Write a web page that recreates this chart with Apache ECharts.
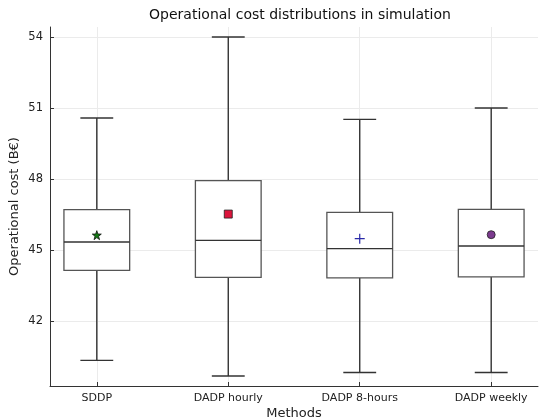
<!DOCTYPE html>
<html>
<head>
<meta charset="utf-8">
<script src="https://cdn.jsdelivr.net/npm/echarts@6/dist/echarts.min.js"></script>
<style>
  html, body { margin: 0; padding: 0; background: #fff; }
  #chart { width: 539px; height: 419px; }
</style>
</head>
<body>
<div id="chart"></div>
<script>
// Methods compared on the x axis
const methods = ['SDDP', 'DADP hourly', 'DADP 8-hours', 'DADP weekly'];
// Box statistics per method (B€)
const whiskerLow  = [40.34, 39.68, 39.83, 39.83];
const quartile1   = [44.14, 43.85, 43.83, 43.87];
const medians     = [45.34, 45.41, 45.06, 45.17];
const quartile3   = [46.71, 47.93, 46.59, 46.72];
const whiskerHigh = [50.58, 54.00, 50.52, 51.00];
// Mean cost per method
const means       = [45.63, 46.52, 45.48, 45.65];
// Y tick labels
const yTicks = [42, 45, 48, 51, 54];

const FONT = 'DejaVu Sans';
const positions = methods.map((_, i) => i + 1);

const boxData = methods.map((_, i) => [
  i + 1, whiskerLow[i], quartile1[i], medians[i], quartile3[i], whiskerHigh[i]
]);

const markerStyles = [
  { symbol: 'path://M0,-10 L2.35,-3.24 L9.51,-3.09 L3.8,1.24 L5.88,8.09 L0,4 L-5.88,8.09 L-3.8,1.24 L-9.51,-3.09 L-2.35,-3.24 Z',
    size: 9, color: '#137a13', border: '#111', bw: 0.8 },
  { symbol: 'rect', size: 8, color: '#dc143c', border: '#222', bw: 0.8 },
  { symbol: 'path://M-0.6,-5 L0.6,-5 L0.6,-0.6 L5,-0.6 L5,0.6 L0.6,0.6 L0.6,5 L-0.6,5 L-0.6,0.6 L-5,0.6 L-5,-0.6 L-0.6,-0.6 Z',
    size: 10, color: '#2a2aa8', border: '#2a2aa8', bw: 0 },
  { symbol: 'circle', size: 8, color: '#7b3a8e', border: '#222', bw: 0.8 }
];

const meanSeries = methods.map((m, i) => ({
  type: 'scatter',
  name: m,
  data: [[i + 1, means[i]]],
  symbol: markerStyles[i].symbol,
  symbolSize: markerStyles[i].size,
  itemStyle: { color: markerStyles[i].color, borderColor: markerStyles[i].border, borderWidth: markerStyles[i].bw, opacity: 1 },
  z: 5,
  silent: true
}));

const chart = echarts.init(document.getElementById('chart'), null, { renderer: 'canvas' });

chart.setOption({
  animation: false,
  backgroundColor: '#fff',
  title: {
    text: 'Operational cost distributions in simulation',
    left: 295, textAlign: 'center', top: 3,
    textStyle: { fontFamily: FONT, fontSize: 14, fontWeight: 'normal', color: '#111' }
  },
  grid: { left: 50, right: 1, top: 27, bottom: 33, outerBoundsMode: 'none', containLabel: false },
  xAxis: {
    type: 'value',
    min: 0.644, max: 4.356,
    name: 'Methods',
    nameLocation: 'middle',
    nameGap: 21,
    nameMoveOverlap: false,
    nameTextStyle: { fontFamily: FONT, fontSize: 13, color: '#222' },
    axisLine: { show: true, onZero: false, lineStyle: { color: '#333', width: 1 } },
    axisTick: { show: true, inside: true, length: 4, customValues: positions, lineStyle: { color: '#333' } },
    axisLabel: {
      customValues: positions,
      fontFamily: FONT, fontSize: 11, color: '#222', margin: 7,
      formatter: v => methods[Math.round(v) - 1] || ''
    },
    splitLine: { show: true, lineStyle: { color: '#ebebeb', width: 1 } }
  },
  yAxis: {
    type: 'value',
    min: 39.26, max: 54.42,
    name: 'Operational cost (B€)',
    nameLocation: 'middle',
    nameGap: 29,
    nameMoveOverlap: false,
    nameTextStyle: { fontFamily: FONT, fontSize: 13, color: '#222' },
    axisLine: { show: true, onZero: false, lineStyle: { color: '#333', width: 1 } },
    axisTick: { show: true, inside: true, length: 4, customValues: yTicks, lineStyle: { color: '#333' } },
    axisLabel: { customValues: yTicks, fontFamily: FONT, fontSize: 11.5, color: '#222', margin: 7 },
    splitLine: { show: true, lineStyle: { color: '#ebebeb', width: 1 } }
  },
  series: [
    {
      type: 'custom',
      name: 'boxes',
      data: boxData,
      encode: { x: 0, y: [1, 2, 3, 4, 5] },
      z: 3,
      renderItem: function (params, api) {
        const x = api.value(0);
        const lo = api.value(1), q1 = api.value(2), med = api.value(3), q3 = api.value(4), hi = api.value(5);
        const half = 0.25, capHalf = 0.125;
        const pLeftQ3 = api.coord([x - half, q3]);
        const pRightQ1 = api.coord([x + half, q1]);
        const pc = (v) => api.coord([x, v]);
        const whiskerStyle = { stroke: '#333', lineWidth: 1.4, fill: null };
        const boxStyle = { stroke: '#555', lineWidth: 1.3, fill: '#fff' };
        const capL = (v) => api.coord([x - capHalf, v]);
        const capR = (v) => api.coord([x + capHalf, v]);
        const medL = api.coord([x - half, med]);
        const medR = api.coord([x + half, med]);
        return {
          type: 'group',
          children: [
            { type: 'line', shape: { x1: pc(q3)[0], y1: pc(q3)[1], x2: pc(hi)[0], y2: pc(hi)[1] }, style: whiskerStyle },
            { type: 'line', shape: { x1: pc(lo)[0], y1: pc(lo)[1], x2: pc(q1)[0], y2: pc(q1)[1] }, style: whiskerStyle },
            { type: 'line', shape: { x1: capL(hi)[0], y1: capL(hi)[1], x2: capR(hi)[0], y2: capR(hi)[1] }, style: whiskerStyle },
            { type: 'line', shape: { x1: capL(lo)[0], y1: capL(lo)[1], x2: capR(lo)[0], y2: capR(lo)[1] }, style: whiskerStyle },
            { type: 'rect', shape: { x: pLeftQ3[0], y: pLeftQ3[1], width: pRightQ1[0] - pLeftQ3[0], height: pRightQ1[1] - pLeftQ3[1] }, style: boxStyle },
            { type: 'line', shape: { x1: medL[0], y1: medL[1], x2: medR[0], y2: medR[1] }, style: { stroke: '#333', lineWidth: 1.4 } }
          ]
        };
      }
    }
  ].concat(meanSeries)
});
</script>
</body>
</html>
